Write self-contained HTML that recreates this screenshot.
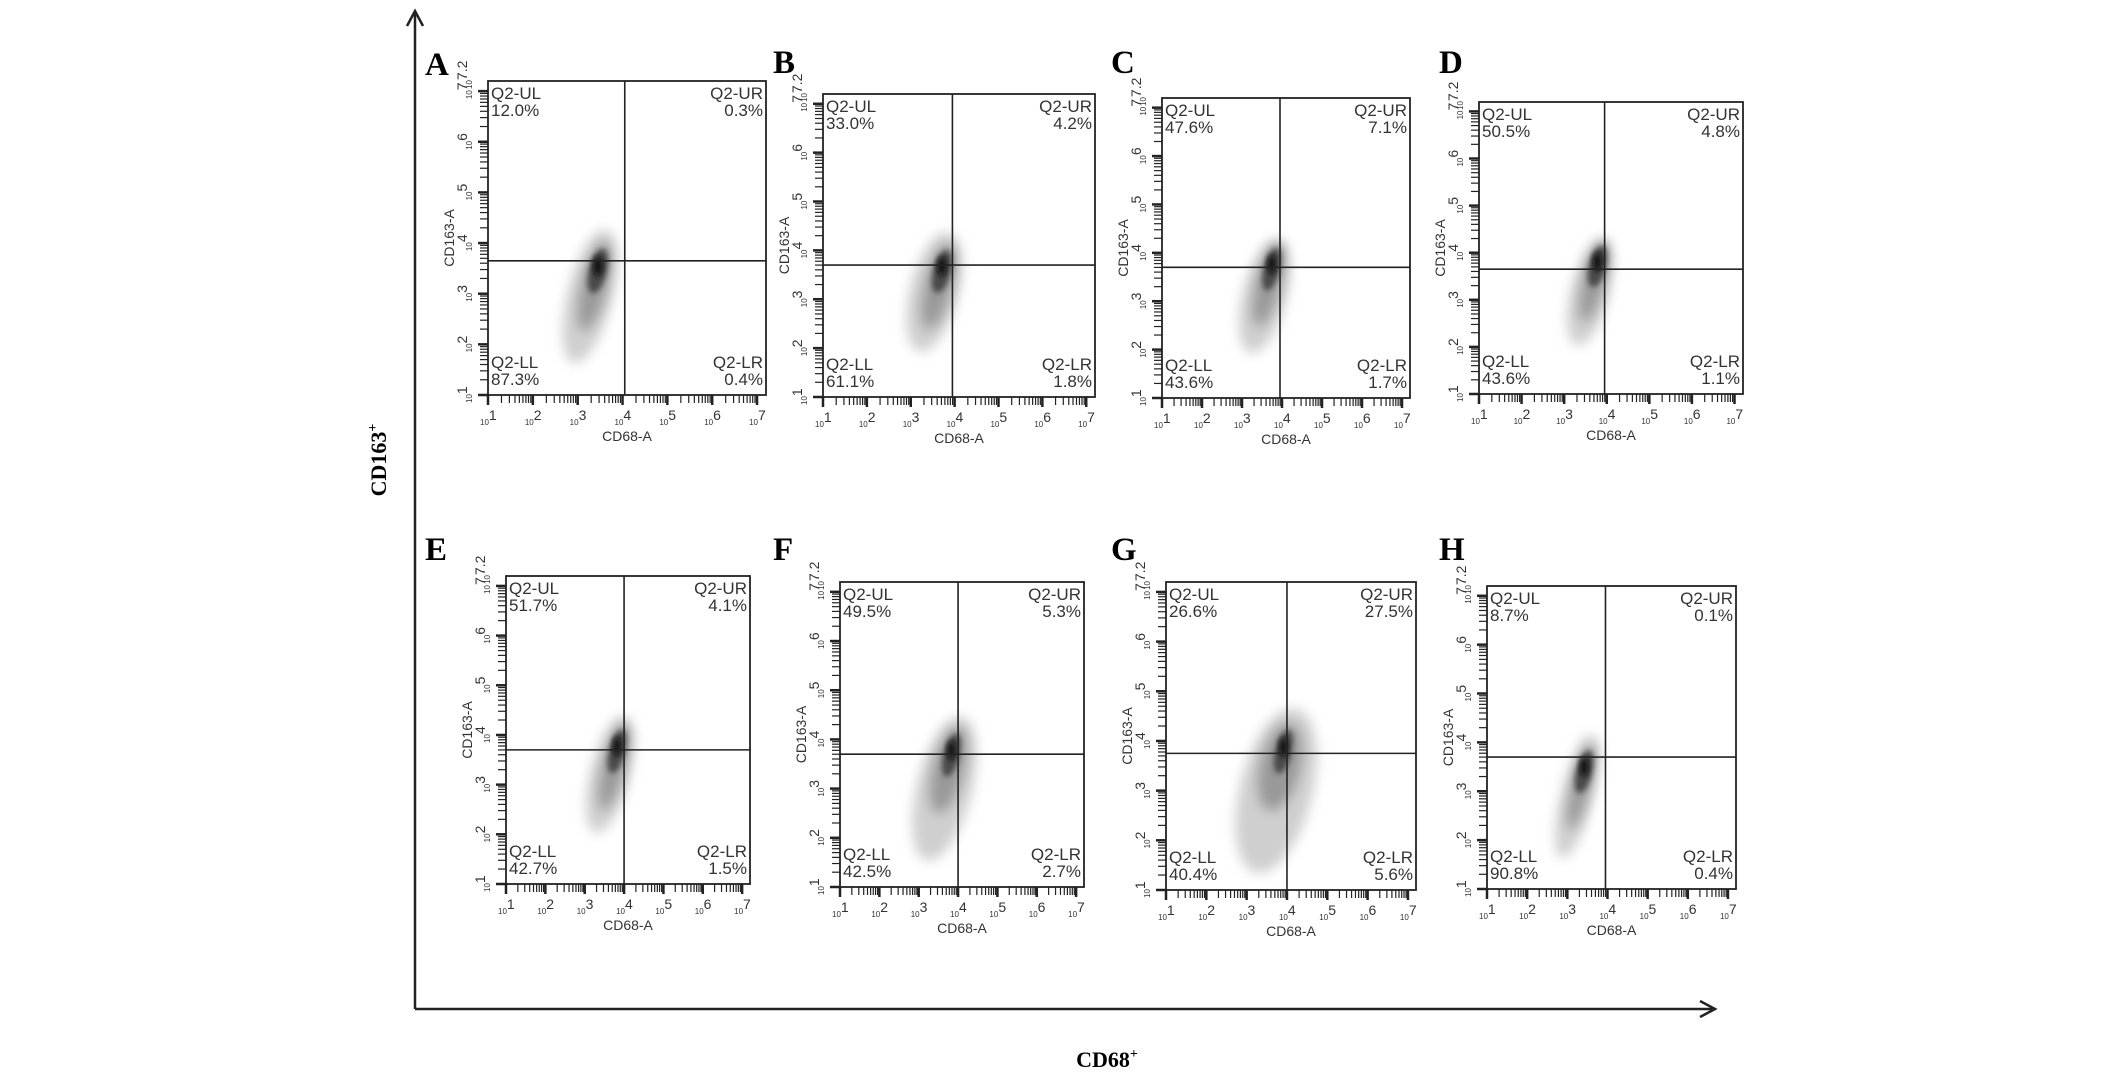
<!DOCTYPE html>
<html><head><meta charset="utf-8"><style>
html,body{margin:0;padding:0;background:#fff;}
svg{display:block;}
</style></head><body>
<svg id="fig" width="2126" height="1073" viewBox="0 0 2126 1073" xmlns="http://www.w3.org/2000/svg">
<defs>
<filter id="blur3" x="-50%" y="-50%" width="200%" height="200%"><feGaussianBlur stdDeviation="3"/></filter>
<filter id="blur6" x="-50%" y="-50%" width="200%" height="200%"><feGaussianBlur stdDeviation="6"/></filter>
</defs>
<g>
<line x1="415" y1="14" x2="415" y2="1009" stroke="#222" stroke-width="2.5"/>
<polyline points="407,26 415,11 423,26" fill="none" stroke="#222" stroke-width="2.5"/>
</g>
<g>
<line x1="415" y1="1009" x2="1712" y2="1009" stroke="#222" stroke-width="2.5"/>
<polyline points="1700,1001 1715,1009 1700,1017" fill="none" stroke="#222" stroke-width="2.5"/>
</g>
<text transform="translate(386,460) rotate(-90)" text-anchor="middle" font-family="Liberation Serif, serif" font-weight="bold" font-size="22">CD163<tspan dy="-9" font-size="14">+</tspan></text>
<text x="1107" y="1067" text-anchor="middle" font-family="Liberation Serif, serif" font-weight="bold" font-size="22">CD68<tspan dy="-9" font-size="14">+</tspan></text>
<g id="panels"></g>
</svg>
<script>
// Panel letters and quadrant percentages (UL, UR, LL, LR)
const panelLetters = ['A','B','C','D','E','F','G','H'];
const pctUL = ['12.0%','33.0%','47.6%','50.5%','51.7%','49.5%','26.6%','8.7%'];
const pctUR = ['0.3%','4.2%','7.1%','4.8%','4.1%','5.3%','27.5%','0.1%'];
const pctLL = ['87.3%','61.1%','43.6%','43.6%','42.7%','42.5%','40.4%','90.8%'];
const pctLR = ['0.4%','1.8%','1.7%','1.1%','1.5%','2.7%','5.6%','0.4%'];
// Gate positions (log10 units)
const gateX = [4.05,3.95,3.95,3.95,4.0,4.0,4.0,3.95];
const gateY = [3.65,3.7,3.7,3.65,3.7,3.7,3.75,3.7];
// Cloud shape (log10 units): dense core, lower/upper extent, half width
const coreX = [3.45,3.71,3.74,3.78,3.82,3.83,3.91,3.42];
const coreY = [3.55,3.67,3.76,3.81,3.77,3.78,3.88,3.5];
const lowY  = [1.6,1.9,1.9,2.0,2.0,1.5,1.3,1.6];
const topY  = [4.3,4.4,4.3,4.3,4.4,4.5,4.7,4.2];
const halfW = [0.5,0.55,0.55,0.45,0.5,0.7,0.9,0.4];
// Tick labels
const decadeTicks = [1,2,3,4,5,6,7];
const xTickLabels = ['1','2','3','4','5','6','7'];
const upperLabel = '7.2';
// Layout (pixel boxes) - not data
const boxes = [
 [488,81,766,395],[823,94,1095,397],[1162,98,1410,398],[1479,102,1743,394],
 [506,576,750,884],[840,582,1084,887],[1166,582,1416,890],[1487,586,1736,889]];
const letterPos = [[425,75],[773,73],[1111,73],[1439,73],[425,560],[773,560],[1111,560],[1439,560]];
const NS='http://www.w3.org/2000/svg';
const root=document.getElementById('panels');
function mk(tag,attrs,parent){const e=document.createElementNS(NS,tag);for(const k in attrs)e.setAttribute(k,attrs[k]);(parent||root).appendChild(e);return e;}
const LO=1, HI=7.2;
boxes.forEach((b,i)=>{
  const [L,T,R,B]=b;
  const sx=v=>L+(v-LO)/(HI-LO)*(R-L);
  const sy=v=>B-(v-LO)/(HI-LO)*(B-T);
  const g=mk('g',{});
  
  
  const lt=mk('text',{x:letterPos[i][0],y:letterPos[i][1],'font-family':'Liberation Serif, serif','font-weight':'bold','font-size':'33'},g);
  lt.textContent=panelLetters[i];
  
  
  // cloud
  const cg=mk('g',{},g);
  
  
  const midY=(lowY[i]+topY[i])/2;
  const ang=14;
  const ox=coreX[i]-0.18;
  mk('ellipse',{cx:sx(ox),cy:sy(midY),rx:(sx(coreX[i]+halfW[i])-sx(coreX[i])),ry:(sy(lowY[i])-sy(topY[i]))/2,fill:'#cfcfcf',filter:'url(#blur6)',transform:`rotate(${ang} ${sx(ox)} ${sy(midY)})`},cg);
  const mx=coreX[i]-0.08;
  mk('ellipse',{cx:sx(mx),cy:sy(coreY[i]-0.4),rx:(sx(coreX[i]+halfW[i]*0.55)-sx(coreX[i])),ry:(sy(coreY[i]-1.0)-sy(coreY[i]))*0.9,fill:'#999',filter:'url(#blur6)',transform:`rotate(${ang} ${sx(mx)} ${sy(coreY[i]-0.4)})`},cg);
  mk('ellipse',{cx:sx(coreX[i]),cy:sy(coreY[i]-0.1),rx:(sx(coreX[i]+0.2)-sx(coreX[i])),ry:(sy(coreY[i]-0.45)-sy(coreY[i])),fill:'#4a4a4a',filter:'url(#blur3)',transform:`rotate(${ang} ${sx(coreX[i])} ${sy(coreY[i]-0.1)})`},cg);
  mk('ellipse',{cx:sx(coreX[i]),cy:sy(coreY[i]),rx:(sx(coreX[i]+0.1)-sx(coreX[i])),ry:(sy(coreY[i]-0.2)-sy(coreY[i])),fill:'#111',filter:'url(#blur3)'},cg);
  // box
  const bx=mk('rect',{x:L,y:T,width:R-L,height:B-T,fill:'none',stroke:'#222','stroke-width':1.8},g);
  
  
  const vl=mk('line',{x1:sx(gateX[i]),y1:T,x2:sx(gateX[i]),y2:B,stroke:'#222','stroke-width':1.6},g);
  
  
  const hl=mk('line',{x1:L,y1:sy(gateY[i]),x2:R,y2:sy(gateY[i]),stroke:'#222','stroke-width':1.6},g);
  
  
  // ticks
  for(let d=1;d<=7;d++){for(let m=1;m<=9;m++){const v=d+Math.log10(m);if(v>HI)break;
    const len=m===1?10:8, w=m===1?2.5:1.2;
    mk('line',{x1:sx(v),y1:B,x2:sx(v),y2:B+len,stroke:'#222','stroke-width':w},g);
    mk('line',{x1:L,y1:sy(v),x2:L-len,y2:sy(v),stroke:'#222','stroke-width':w},g);}}
  decadeTicks.forEach((d,k)=>{
    const t=mk('text',{x:sx(d)-8,y:B+30,'font-family':'Liberation Sans, sans-serif','font-size':'8',fill:'#333'},g);
    t.innerHTML='10<tspan dy="-5" font-size="14">'+xTickLabels[k]+'</tspan>';
    
    
    const ty=mk('text',{transform:`translate(${L-16},${sy(d)+8}) rotate(-90)`,'font-family':'Liberation Sans, sans-serif','font-size':'8',fill:'#333'},g);
    ty.innerHTML='10<tspan dy="-5" font-size="14">'+xTickLabels[k]+'</tspan>';
    
    
  });
  const tu=mk('text',{transform:`translate(${L-16},${T+8}) rotate(-90)`,'font-family':'Liberation Sans, sans-serif','font-size':'8',fill:'#333'},g);
  tu.innerHTML='10<tspan dy="-5" font-size="14">'+upperLabel+'</tspan>';
  
  
  const xl=mk('text',{x:(L+R)/2,y:B+46,'text-anchor':'middle','font-family':'Liberation Sans, sans-serif','font-size':'14',fill:'#333'},g);
  xl.textContent='CD68-A';
  
  
  const yl=mk('text',{transform:`translate(${L-34},${(T+B)/2}) rotate(-90)`,'text-anchor':'middle','font-family':'Liberation Sans, sans-serif','font-size':'14',fill:'#333'},g);
  yl.textContent='CD163-A';
  
  
  // quadrant labels
  const q=[['Q2-UL',pctUL[i],L+3,T+18,'start','label-ul'],['Q2-UR',pctUR[i],R-3,T+18,'end','label-ur'],
           ['Q2-LL',pctLL[i],L+3,B-27,'start','label-ll'],['Q2-LR',pctLR[i],R-3,B-27,'end','label-lr']];
  q.forEach(a=>{
    const t=mk('text',{x:a[2],y:a[3],'text-anchor':a[4],'font-family':'Liberation Sans, sans-serif','font-size':'17',fill:'#333'},g);
    t.innerHTML=a[0]+'<tspan x="'+a[2]+'" dy="17">'+a[1]+'</tspan>';
    
    
  });
});
</script>
</body></html>
